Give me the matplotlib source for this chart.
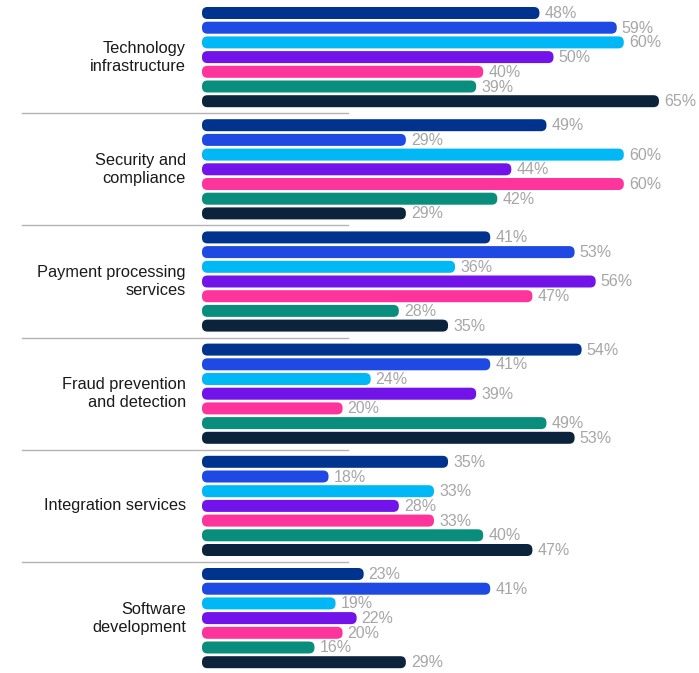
import numpy as np
import matplotlib.pyplot as plt
from matplotlib.patches import FancyBboxPatch

categories = ["Technology\ninfrastructure", "Security and\ncompliance",
              "Payment processing\nservices", "Fraud prevention\nand detection",
              "Integration services", "Software\ndevelopment"]
series_values = [
    [48, 59, 60, 50, 40, 39, 65],
    [49, 29, 60, 44, 60, 42, 29],
    [41, 53, 36, 56, 47, 28, 35],
    [54, 41, 24, 39, 20, 49, 53],
    [35, 18, 33, 28, 33, 40, 47],
    [23, 41, 19, 22, 20, 16, 29],
]
colors = ["#00338D", "#1E49E2", "#00B8F5", "#7213EA", "#FD349C", "#098E7E", "#0C233C"]

W, H = 699, 673
fig = plt.figure(figsize=(W / 100, H / 100), dpi=100)
ax = fig.add_axes([0, 0, 1, 1])

# x in percent (7.03 px per %), y in pixels from the top
px = 7.03
x0 = 202
ax.set_xlim(-x0 / px, (W - x0) / px)
ax.set_ylim(H, 0)
ax.axis("off")

row, group_gap, top = 14.7, 112.2, 13
bar_h = 12
for g, vals in enumerate(series_values):
    ys = top + g * group_gap + np.arange(len(vals)) * row
    bars = ax.barh(ys, vals, height=bar_h, color=colors)
    for b, v, c in zip(bars, vals, colors):
        bx, by = b.get_x(), b.get_y()
        bw, bh = b.get_width(), b.get_height()
        b.remove()
        r = 5.5
        patch = FancyBboxPatch((bx + r / px, by + r), bw - 2 * r / px, bh - 2 * r,
                               boxstyle=f"round,pad={r / px},rounding_size={r / px}",
                               mutation_aspect=px, fc=c, ec="none")
        ax.add_patch(patch)
        ax.text(v + 5 / px, by + bh / 2 + 0.5, f"{v}%", ha="left", va="center",
                fontsize=11.5, color="#A6A6A6", family="Liberation Sans")
    ax.text(-16 / px, ys[3], categories[g], ha="right", va="center", ma="right",
            fontsize=11.8, color="#1a1a1a", family="Liberation Sans", linespacing=1.25)
    if g < len(series_values) - 1:
        ysep = ys[-1] + (group_gap - 6 * row) / 2
        ax.plot([(22 - x0) / px, (348 - x0) / px], [ysep, ysep], color="#B3B3B3", lw=1)

fig.savefig("out.png", dpi=100)
